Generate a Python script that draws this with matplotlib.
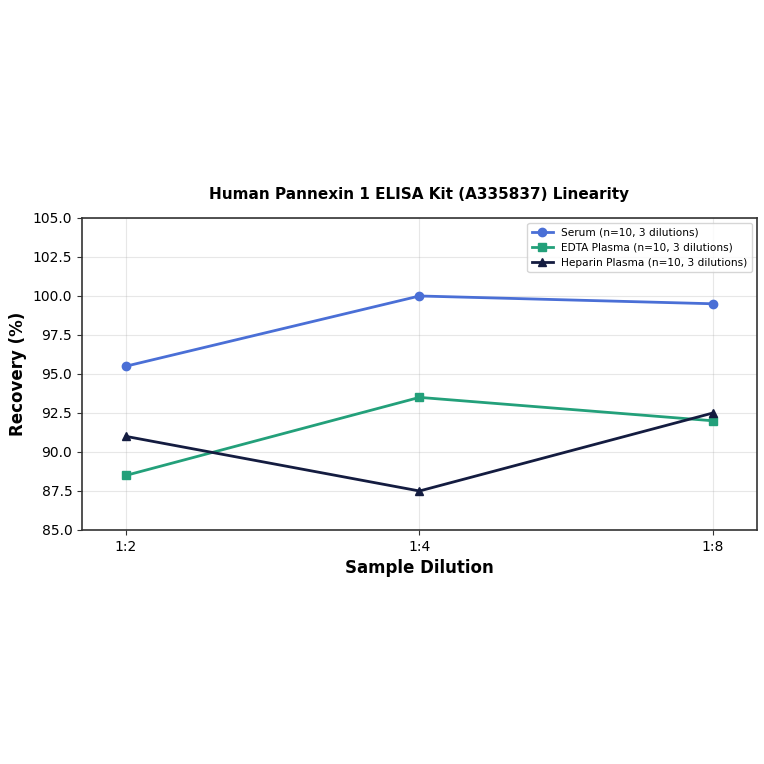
import matplotlib.pyplot as plt

dilutions = ['1:2', '1:4', '1:8']
serum = [95.5, 100.0, 99.5]
edta_plasma = [88.5, 93.5, 92.0]
heparin_plasma = [91.0, 87.5, 92.5]


def main():
    fig = plt.figure(figsize=(7.64, 7.64), dpi=100)
    ax = fig.add_axes([0.1073, 0.3063, 0.8835, 0.4084])

    x = range(len(dilutions))
    ax.plot(x, serum, marker='o', color='#4a6fd6', linewidth=2, markersize=6,
            label='Serum (n=10, 3 dilutions)')
    ax.plot(x, edta_plasma, marker='s', color='#23a07a', linewidth=2, markersize=6,
            label='EDTA Plasma (n=10, 3 dilutions)')
    ax.plot(x, heparin_plasma, marker='^', color='#141c40', linewidth=2, markersize=6,
            label='Heparin Plasma (n=10, 3 dilutions)')

    ax.set_xticks(list(x))
    ax.set_xticklabels(dilutions)
    ax.set_xlim(-0.15, 2.15)
    ax.set_ylim(85, 105)
    ax.tick_params(labelsize=10, color='#333333')

    for spine in ax.spines.values():
        spine.set_color('#333333')
        spine.set_linewidth(1.2)

    ax.set_xlabel('Sample Dilution', fontsize=12, fontweight='bold')
    ax.set_ylabel('Recovery (%)', fontsize=12, fontweight='bold')
    ax.set_title('Human Pannexin 1 ELISA Kit (A335837) Linearity',
                 fontsize=11, fontweight='bold', pad=14)
    ax.grid(True, alpha=0.3)
    ax.legend(loc='upper right', fontsize=7.6)

    fig.savefig('out.png', dpi=100)
    plt.close(fig)


main()
